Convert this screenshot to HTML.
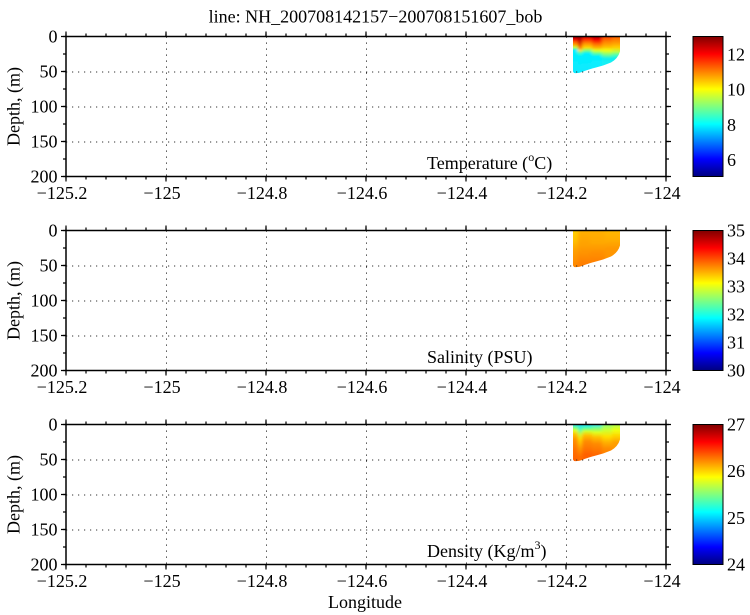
<!DOCTYPE html>
<html>
<head>
<meta charset="utf-8">
<style>
html,body{margin:0;padding:0;background:#fff;}
svg{display:block;}
text{font-family:"Liberation Serif","Times New Roman",serif;font-size:18px;fill:#000;}
</style>
</head>
<body>
<svg width="750" height="615" viewBox="0 0 750 615" xmlns="http://www.w3.org/2000/svg" font-family="Liberation Serif, serif">
<defs>
  <linearGradient id="jet" x1="0" y1="0" x2="0" y2="1">
    <stop offset="0" stop-color="#800000"/>
    <stop offset="0.125" stop-color="#FF0000"/>
    <stop offset="0.375" stop-color="#FFFF00"/>
    <stop offset="0.625" stop-color="#00FFFF"/>
    <stop offset="0.875" stop-color="#0000FF"/>
    <stop offset="1" stop-color="#000080"/>
  </linearGradient>
  <clipPath id="pc"><path d="M573 0H620V15Q618 22 611 26Q604 29 596 31Q588 33 582 35.5Q578 37 574 36.5L573 35Z"/></clipPath>
  <filter id="bl" x="-20%" y="-20%" width="140%" height="140%"><feGaussianBlur stdDeviation="1.5 0.6"/></filter>

  <!-- temperature -->
  <linearGradient id="tA" gradientUnits="userSpaceOnUse" x1="0" y1="0" x2="0" y2="40">
    <stop offset="0" stop-color="#A00000"/><stop offset=".0625" stop-color="#E00000"/><stop offset=".125" stop-color="#FF5000"/><stop offset=".2" stop-color="#FFA000"/><stop offset=".275" stop-color="#C0FF40"/><stop offset=".34" stop-color="#00F0FF"/><stop offset="1" stop-color="#10E8FF"/>
  </linearGradient>
  <linearGradient id="tB" gradientUnits="userSpaceOnUse" x1="0" y1="0" x2="0" y2="40">
    <stop offset="0" stop-color="#900000"/><stop offset=".15" stop-color="#D00000"/><stop offset=".275" stop-color="#FF6000"/><stop offset=".35" stop-color="#FFE000"/><stop offset=".425" stop-color="#40FFC0"/><stop offset=".5" stop-color="#00F0FF"/><stop offset="1" stop-color="#10E8FF"/>
  </linearGradient>
  <linearGradient id="tC" gradientUnits="userSpaceOnUse" x1="0" y1="0" x2="0" y2="40">
    <stop offset="0" stop-color="#D00000"/><stop offset=".075" stop-color="#FF3000"/><stop offset=".175" stop-color="#FF9000"/><stop offset=".275" stop-color="#FFD800"/><stop offset=".35" stop-color="#80FF80"/><stop offset=".425" stop-color="#00F0FF"/><stop offset="1" stop-color="#10E8FF"/>
  </linearGradient>
  <linearGradient id="tD" gradientUnits="userSpaceOnUse" x1="0" y1="0" x2="0" y2="40">
    <stop offset="0" stop-color="#A80000"/><stop offset=".075" stop-color="#F00000"/><stop offset=".175" stop-color="#FF6000"/><stop offset=".275" stop-color="#FFB000"/><stop offset=".35" stop-color="#E0FF20"/><stop offset=".425" stop-color="#60FFA0"/><stop offset=".5" stop-color="#00F0FF"/><stop offset="1" stop-color="#20ECFF"/>
  </linearGradient>
  <linearGradient id="tE" gradientUnits="userSpaceOnUse" x1="0" y1="0" x2="0" y2="40">
    <stop offset="0" stop-color="#FF4000"/><stop offset=".125" stop-color="#FF8000"/><stop offset=".25" stop-color="#FFB800"/><stop offset=".35" stop-color="#F0FF10"/><stop offset=".45" stop-color="#80FF80"/><stop offset=".55" stop-color="#10F0F0"/><stop offset="1" stop-color="#20ECFF"/>
  </linearGradient>
  <linearGradient id="tF" gradientUnits="userSpaceOnUse" x1="0" y1="0" x2="0" y2="40">
    <stop offset="0" stop-color="#FF6000"/><stop offset=".15" stop-color="#FF9800"/><stop offset=".275" stop-color="#FFD000"/><stop offset=".375" stop-color="#C0FF40"/><stop offset=".475" stop-color="#40FFC0"/><stop offset=".55" stop-color="#10F0F0"/><stop offset="1" stop-color="#20ECFF"/>
  </linearGradient>

  <!-- salinity -->
  <linearGradient id="sA" gradientUnits="userSpaceOnUse" x1="0" y1="0" x2="0" y2="40">
    <stop offset="0" stop-color="#FFD000"/><stop offset=".25" stop-color="#FFC000"/><stop offset=".5" stop-color="#FFA000"/><stop offset=".875" stop-color="#FF8800"/><stop offset="1" stop-color="#FF8000"/>
  </linearGradient>
  <linearGradient id="sB" gradientUnits="userSpaceOnUse" x1="0" y1="0" x2="0" y2="40">
    <stop offset="0" stop-color="#FFB000"/><stop offset=".375" stop-color="#FFA000"/><stop offset=".7" stop-color="#FF8800"/><stop offset=".925" stop-color="#FF7800"/>
  </linearGradient>
  <linearGradient id="sC" gradientUnits="userSpaceOnUse" x1="0" y1="0" x2="0" y2="40">
    <stop offset="0" stop-color="#FFB000"/><stop offset=".3" stop-color="#FFA800"/><stop offset=".55" stop-color="#FF9000"/><stop offset=".8" stop-color="#FF8000"/>
  </linearGradient>
  <linearGradient id="sD" gradientUnits="userSpaceOnUse" x1="0" y1="0" x2="0" y2="40">
    <stop offset="0" stop-color="#FFB800"/><stop offset=".25" stop-color="#FFAC00"/><stop offset=".45" stop-color="#FF9800"/><stop offset="1" stop-color="#FF9000"/>
  </linearGradient>

  <!-- density -->
  <linearGradient id="dA" gradientUnits="userSpaceOnUse" x1="0" y1="0" x2="0" y2="40">
    <stop offset="0" stop-color="#30E8FF"/><stop offset=".06" stop-color="#60FFA0"/><stop offset=".15" stop-color="#E0FF20"/><stop offset=".25" stop-color="#FFC000"/><stop offset=".38" stop-color="#FF9000"/><stop offset=".65" stop-color="#FF7000"/><stop offset=".925" stop-color="#FF6000"/>
  </linearGradient>
  <linearGradient id="dB" gradientUnits="userSpaceOnUse" x1="0" y1="0" x2="0" y2="40">
    <stop offset="0" stop-color="#20E0FF"/><stop offset=".12" stop-color="#40F8C0"/><stop offset=".24" stop-color="#C0FF40"/><stop offset=".36" stop-color="#FFE000"/><stop offset=".58" stop-color="#FFA000"/><stop offset=".8" stop-color="#FF7000"/>
  </linearGradient>
  <linearGradient id="dC" gradientUnits="userSpaceOnUse" x1="0" y1="0" x2="0" y2="40">
    <stop offset="0" stop-color="#20E0FF"/><stop offset=".08" stop-color="#50FFB0"/><stop offset=".17" stop-color="#D0FF30"/><stop offset=".27" stop-color="#FFC000"/><stop offset=".42" stop-color="#FF8C00"/><stop offset=".75" stop-color="#FF6000"/>
  </linearGradient>
  <linearGradient id="dD" gradientUnits="userSpaceOnUse" x1="0" y1="0" x2="0" y2="40">
    <stop offset="0" stop-color="#40E8FF"/><stop offset=".08" stop-color="#70FF90"/><stop offset=".2" stop-color="#E0FF20"/><stop offset=".32" stop-color="#FFC000"/><stop offset=".48" stop-color="#FF8C00"/><stop offset=".75" stop-color="#FF6800"/>
  </linearGradient>
  <linearGradient id="dE" gradientUnits="userSpaceOnUse" x1="0" y1="0" x2="0" y2="40">
    <stop offset="0" stop-color="#90FF70"/><stop offset=".15" stop-color="#D0FF30"/><stop offset=".3" stop-color="#FFE000"/><stop offset=".45" stop-color="#FFB000"/><stop offset=".6" stop-color="#FF8C00"/><stop offset="1" stop-color="#FF7000"/>
  </linearGradient>
  <linearGradient id="dF" gradientUnits="userSpaceOnUse" x1="0" y1="0" x2="0" y2="40">
    <stop offset="0" stop-color="#B0FF50"/><stop offset=".15" stop-color="#F0FF10"/><stop offset=".3" stop-color="#FFD000"/><stop offset=".45" stop-color="#FFA000"/><stop offset="1" stop-color="#FF8000"/>
  </linearGradient>

  <!-- axis frame (no text) -->
  <g id="axes">
    <path d="M166.5 0V140M266.5 0V140M366.5 0V140M466.5 0V140M566.5 0V140M66 35.5H666M66 70.5H666M66 105.5H666" fill="none" stroke="#333" stroke-width="1" stroke-dasharray="1.2 4.8"/>
    <rect x="66" y="0" width="600" height="140" fill="none" stroke="#000" stroke-width="1.5"/>
    <line x1="65.4" y1="141.5" x2="667" y2="141.5" stroke="#000" stroke-width="3" stroke-dasharray="1.2 18.8"/>
    <line x1="65.4" y1="142.5" x2="667" y2="142.5" stroke="#000" stroke-width="5" stroke-dasharray="1.2 98.8"/>
    <line x1="65.4" y1="-1.5" x2="667" y2="-1.5" stroke="#000" stroke-width="3" stroke-dasharray="1.2 18.8"/>
    <line x1="65.4" y1="-2.5" x2="667" y2="-2.5" stroke="#000" stroke-width="5" stroke-dasharray="1.2 98.8"/>
    <line x1="64.5" y1="-0.6" x2="64.5" y2="141" stroke="#000" stroke-width="3" stroke-dasharray="1.2 16.3"/>
    <line x1="63.5" y1="-0.6" x2="63.5" y2="141" stroke="#000" stroke-width="5" stroke-dasharray="1.2 33.8"/>
    <line x1="667.5" y1="-0.6" x2="667.5" y2="141" stroke="#000" stroke-width="3" stroke-dasharray="1.2 16.3"/>
    <line x1="668.5" y1="-0.6" x2="668.5" y2="141" stroke="#000" stroke-width="5" stroke-dasharray="1.2 33.8"/>
    <rect x="693" y="0" width="30" height="140" fill="url(#jet)" stroke="#000" stroke-width="1"/>
  </g>
</defs>

<rect width="750" height="615" fill="#fff"/>

<text x="375.5" y="22.5" text-anchor="middle">line: NH_200708142157−200708151607_bob</text>

<!-- Panel 1: Temperature -->
<g transform="translate(0,36.5)">
  <g clip-path="url(#pc)"><g filter="url(#bl)">
    <rect x="560" y="-5" width="18" height="50" fill="url(#tA)"/>
    <rect x="578" y="-5" width="4" height="50" fill="url(#tB)"/>
    <rect x="582" y="-5" width="10" height="50" fill="url(#tC)"/>
    <rect x="592" y="-5" width="10" height="50" fill="url(#tD)"/>
    <rect x="602" y="-5" width="10" height="50" fill="url(#tE)"/>
    <rect x="612" y="-5" width="18" height="50" fill="url(#tF)"/>
  </g></g>
  <use href="#axes"/>
  <g text-anchor="end">
    <text x="57.5" y="6">0</text><text x="57.5" y="41">50</text><text x="57.5" y="76">100</text><text x="57.5" y="111">150</text><text x="57.5" y="146">200</text>
  </g>
  <g text-anchor="middle">
    <text x="62" y="162.5">−125.2</text><text x="162" y="162.5">−125</text><text x="262" y="162.5">−124.8</text><text x="362" y="162.5">−124.6</text><text x="462" y="162.5">−124.4</text><text x="562" y="162.5">−124.2</text><text x="662" y="162.5">−124</text>
  </g>
  <text transform="translate(19.5,70) rotate(-90)" text-anchor="middle">Depth, (m)</text>
  <text x="427" y="132.5">Temperature (<tspan font-size="12" dy="-8">o</tspan><tspan dy="8">C)</tspan></text>
  <text x="727" y="23.8">12</text><text x="727" y="59">10</text><text x="727" y="94.3">8</text><text x="727" y="129.5">6</text>
</g>

<!-- Panel 2: Salinity -->
<g transform="translate(0,230.5)">
  <g clip-path="url(#pc)"><g filter="url(#bl)">
    <rect x="560" y="-5" width="18" height="50" fill="url(#sA)"/>
    <rect x="578" y="-5" width="12" height="50" fill="url(#sB)"/>
    <rect x="590" y="-5" width="15" height="50" fill="url(#sC)"/>
    <rect x="605" y="-5" width="25" height="50" fill="url(#sD)"/>
  </g></g>
  <use href="#axes"/>
  <g text-anchor="end">
    <text x="57.5" y="6">0</text><text x="57.5" y="41">50</text><text x="57.5" y="76">100</text><text x="57.5" y="111">150</text><text x="57.5" y="146">200</text>
  </g>
  <g text-anchor="middle">
    <text x="62" y="162.5">−125.2</text><text x="162" y="162.5">−125</text><text x="262" y="162.5">−124.8</text><text x="362" y="162.5">−124.6</text><text x="462" y="162.5">−124.4</text><text x="562" y="162.5">−124.2</text><text x="662" y="162.5">−124</text>
  </g>
  <text transform="translate(19.5,70) rotate(-90)" text-anchor="middle">Depth, (m)</text>
  <text x="427" y="132.5">Salinity (PSU)</text>
  <text x="727" y="6">35</text><text x="727" y="34">34</text><text x="727" y="62">33</text><text x="727" y="90">32</text><text x="727" y="118">31</text><text x="727" y="146">30</text>
</g>

<!-- Panel 3: Density -->
<g transform="translate(0,424.5)">
  <g clip-path="url(#pc)"><g filter="url(#bl)">
    <rect x="560" y="-5" width="18" height="50" fill="url(#dA)"/>
    <rect x="578" y="-5" width="4" height="50" fill="url(#dB)"/>
    <rect x="582" y="-5" width="10" height="50" fill="url(#dC)"/>
    <rect x="592" y="-5" width="10" height="50" fill="url(#dD)"/>
    <rect x="602" y="-5" width="10" height="50" fill="url(#dE)"/>
    <rect x="612" y="-5" width="18" height="50" fill="url(#dF)"/>
  </g></g>
  <use href="#axes"/>
  <g text-anchor="end">
    <text x="57.5" y="6">0</text><text x="57.5" y="41">50</text><text x="57.5" y="76">100</text><text x="57.5" y="111">150</text><text x="57.5" y="146">200</text>
  </g>
  <g text-anchor="middle">
    <text x="62" y="162.5">−125.2</text><text x="162" y="162.5">−125</text><text x="262" y="162.5">−124.8</text><text x="362" y="162.5">−124.6</text><text x="462" y="162.5">−124.4</text><text x="562" y="162.5">−124.2</text><text x="662" y="162.5">−124</text>
  </g>
  <text transform="translate(19.5,70) rotate(-90)" text-anchor="middle">Depth, (m)</text>
  <text x="427" y="132.5">Density (Kg/m<tspan font-size="12" dy="-8">3</tspan><tspan dy="8">)</tspan></text>
  <text x="727" y="6">27</text><text x="727" y="52.7">26</text><text x="727" y="99.3">25</text><text x="727" y="146">24</text>
</g>

<text x="365" y="608" text-anchor="middle">Longitude</text>
</svg>
</body>
</html>
